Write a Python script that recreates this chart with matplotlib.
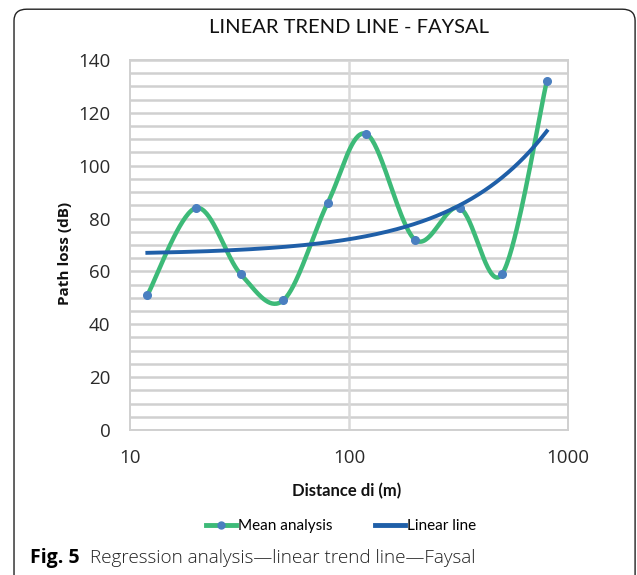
import numpy as np
import matplotlib
matplotlib.use("Agg")
import matplotlib.pyplot as plt
from matplotlib.patches import FancyBboxPatch
from matplotlib.lines import Line2D

# data
distance = [12, 20, 32, 50, 80, 120, 200, 320, 500, 800]
path_loss = [51, 84, 59, 49, 86, 112, 72, 84, 59, 132]
y_ticks = [0, 20, 40, 60, 80, 100, 120, 140]
x_ticks = [10, 100, 1000]

green = "#3dba78"
blue = "#1f5fa8"
marker_blue = "#4a7fc0"
narrow = ["Lato", "DejaVu Sans"]


def smooth(xs, ys, n=40):
    # excel-like smoothed line: catmull-rom bezier in (log x, y) space
    u = np.log10(np.array(xs, dtype=float))
    v = np.array(ys, dtype=float)
    pu = np.concatenate([[u[0]], u, [u[-1]]])
    pv = np.concatenate([[v[0]], v, [v[-1]]])
    out_u, out_v = [], []
    t = np.linspace(0, 1, n)
    for i in range(1, len(pu) - 2):
        p0u, p0v = pu[i], pv[i]
        p3u, p3v = pu[i + 1], pv[i + 1]
        c1u = p0u + (pu[i + 1] - pu[i - 1]) / 6
        c1v = p0v + (pv[i + 1] - pv[i - 1]) / 6
        c2u = p3u - (pu[i + 2] - pu[i]) / 6
        c2v = p3v - (pv[i + 2] - pv[i]) / 6
        bu = (1 - t)**3 * p0u + 3 * (1 - t)**2 * t * c1u + 3 * (1 - t) * t**2 * c2u + t**3 * p3u
        bv = (1 - t)**3 * p0v + 3 * (1 - t)**2 * t * c1v + 3 * (1 - t) * t**2 * c2v + t**3 * p3v
        out_u.extend(bu)
        out_v.extend(bv)
    return 10 ** np.array(out_u), np.array(out_v)


fig = plt.figure(figsize=(6.37, 5.75), dpi=100)
ax = fig.add_axes([0.2041, 0.2522, 0.6876, 0.6435])

# frame round the figure panel
frame = FancyBboxPatch((0.022, -0.05), 0.975, 1.034, boxstyle="round,pad=0,rounding_size=0.02",
                       transform=fig.transFigure, fill=False, edgecolor="#222222", linewidth=1.0,
                       clip_on=False)
fig.patches.append(frame)

ax.set_xscale("log")
ax.set_xlim(10, 1000)
ax.set_ylim(0, 140)

for yy in np.arange(0, 141, 5):
    ax.axhline(yy, color="#d0d0d0", linewidth=1.8, zorder=0)
ax.axvline(100, color="#d9d9d9", linewidth=1.8, zorder=0)
for s in ax.spines.values():
    s.set_color("#d0d0d0")
    s.set_linewidth(1.4)

sx, sy = smooth(distance, path_loss)
ax.plot(sx, sy, color=green, linewidth=3.2, zorder=2)
ax.plot(distance, path_loss, linestyle="none", marker="o", markersize=5.5,
        color=marker_blue, zorder=3)

# linear trend line (fitted in linear x, shown on log axis)
b, a = np.polyfit(distance, path_loss, 1)
tx = np.linspace(distance[0], distance[-1], 300)
ax.plot(tx, a + b * tx, color=blue, linewidth=2.8, zorder=4)

ax.set_xticks(x_ticks)
ax.set_xticklabels([str(v) for v in x_ticks])
ax.minorticks_off()
ax.set_yticks(y_ticks)
ax.tick_params(length=0, labelsize=13.5, labelcolor="#2a2a2a")
ax.tick_params(axis="y", pad=14)
ax.tick_params(axis="x", pad=14)
for lab in ax.get_xticklabels() + ax.get_yticklabels():
    lab.set_family("Open Sans")

ax.set_xlabel("Distance di (m)", family=narrow, fontweight="bold", fontsize=12, color="#111111")
ax.xaxis.set_label_coords(0.495, -0.165)
ax.xaxis.label.set_va("center")
ax.set_ylabel("Path loss (dB)", family="Open Sans", fontweight="bold", fontsize=11, color="#111111")
ax.yaxis.set_label_coords(-0.148, 0.476)
ax.yaxis.label.set_va("center")
ax.set_title("LINEAR TREND LINE - FAYSAL", family=narrow, fontsize=14.5, color="#111111",
             y=1.065, va="center")

# legend handles
h1 = Line2D([0], [0], color=green, linewidth=3.5, marker="o", markersize=5,
            markerfacecolor=marker_blue, markeredgecolor=marker_blue)
h2 = Line2D([0], [0], color=blue, linewidth=3.5)
fig.legend([h1, h2], ["Mean analysis", "Linear line"], loc="center", bbox_to_anchor=(0.535, 0.085),
           ncol=2, frameon=False, handlelength=2.0, handletextpad=0.1, columnspacing=2.8,
           prop={"family": narrow, "size": 11})

fig.text(0.047, 0.03, "Fig. 5", family="Open Sans", fontweight="bold", fontsize=14, va="center")
fig.text(0.141, 0.03, "Regression analysis\u2014linear trend line\u2014Faysal", family="Open Sans",
         fontweight="light", fontsize=13.6, va="center", color="#222222")

fig.savefig("out.png", dpi=100)
